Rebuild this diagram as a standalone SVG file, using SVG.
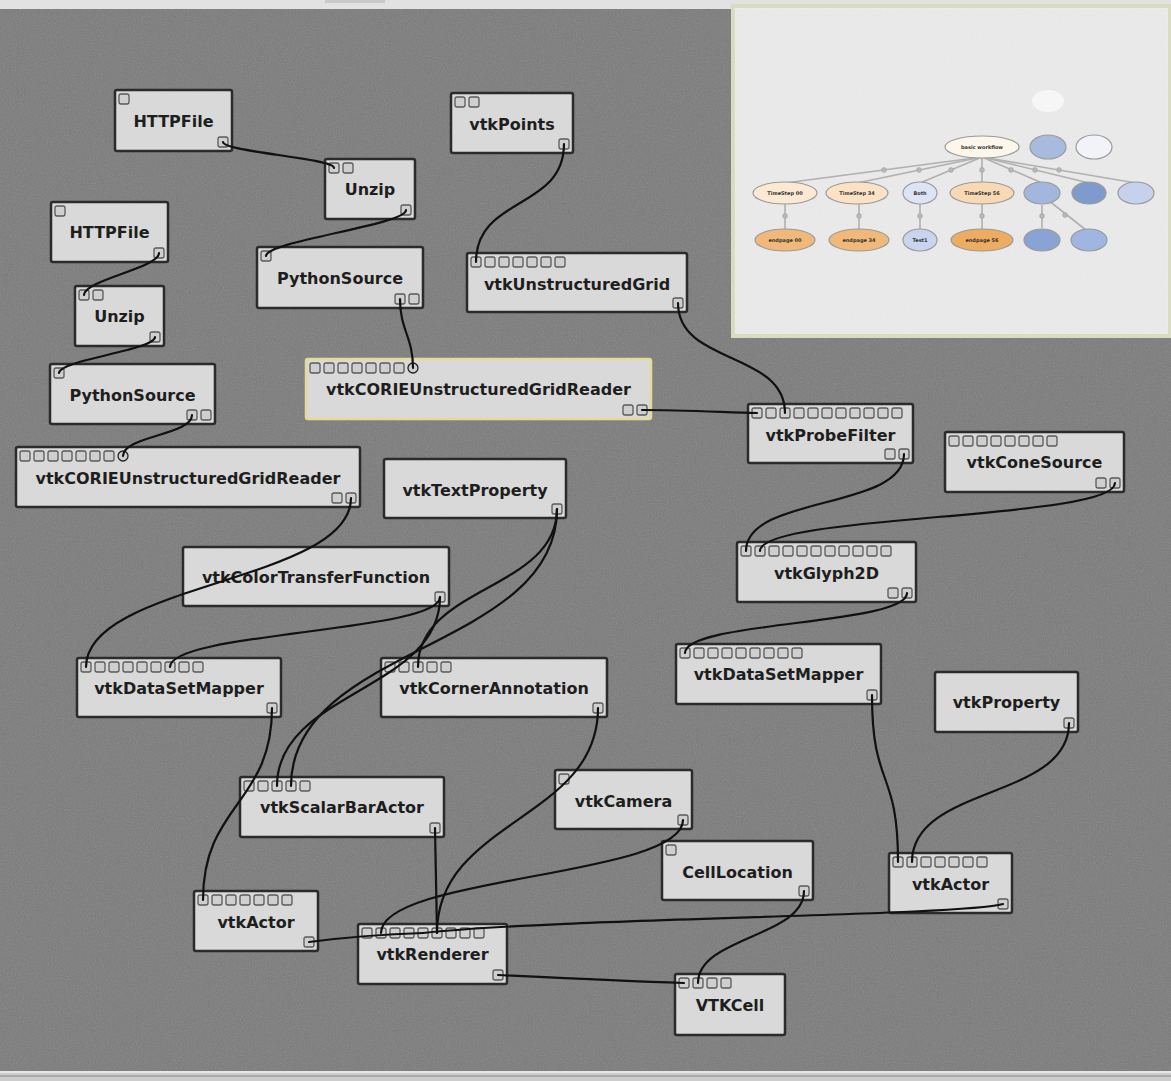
<svg xmlns="http://www.w3.org/2000/svg" width="1171" height="1081" viewBox="0 0 1171 1081">
  <defs>
    <filter id="grain" x="0" y="0" width="100%" height="100%">
      <feTurbulence type="fractalNoise" baseFrequency="0.85" numOctaves="2" seed="7"/>
      <feColorMatrix type="saturate" values="0"/>
    </filter>
    <style>
      .node rect.box { fill: #d9d9d9; stroke: #2b2b2b; stroke-width: 2.5; }
      .node.sel rect.box { stroke: #e2dc96; }
      .node text { font-family: "DejaVu Sans", "Liberation Sans", sans-serif; font-weight: bold; font-size: 16px; fill: #1e1e1e; text-anchor: middle; }
      .port { fill: #cfcfcf; stroke: #5a5a5a; stroke-width: 1.3; }
      .conn path { fill: none; stroke: #111; stroke-width: 2.2; stroke-linecap: round; }
      .vt ellipse { stroke: #9a9a9a; stroke-width: 1.2; }
      .vt text { font-family: "DejaVu Sans", "Liberation Sans", sans-serif; font-weight: bold; font-size: 5px; fill: #333; text-anchor: middle; }
      .vtedge line { stroke: #b0b0b0; stroke-width: 1.6; }
      .vtedge circle { fill: #b8b8b8; stroke: #a0a0a0; stroke-width: 0.6; }
    </style>
  </defs>

  <!-- window chrome and canvas -->
  <rect x="0" y="0" width="1171" height="1081" fill="#e2e2e2"/>
  <rect x="325" y="0" width="60" height="3" fill="#c9c9c9"/>
  <rect x="0" y="9" width="1171" height="1062" fill="#7a7a7a"/>
  <rect x="0" y="9" width="1171" height="1062" filter="url(#grain)" opacity="0.24"/>
  <rect x="0" y="1071" width="1171" height="10" fill="#cdcdcd"/>
  <rect x="0" y="1071" width="1171" height="2" fill="#e6e6e6"/>
  <rect x="0" y="1075" width="1171" height="2" fill="#a9a9a9"/>

  <!-- pipeline modules -->
  <g id="HTTPFile_1" class="node">
    <rect class="box" x="115" y="90" width="117" height="61" rx="2"/>
    <rect class="port" x="119" y="94" width="10" height="10" rx="2"/>
    <rect class="port" x="218" y="137" width="10" height="10" rx="2"/>
    <text x="173.5" y="126.5">HTTPFile</text>
  </g>
  <g id="Unzip_1" class="node">
    <rect class="box" x="325" y="159" width="90" height="60" rx="2"/>
    <rect class="port" x="329" y="163" width="10" height="10" rx="2"/>
    <rect class="port" x="343" y="163" width="10" height="10" rx="2"/>
    <rect class="port" x="401" y="205" width="10" height="10" rx="2"/>
    <text x="370" y="195">Unzip</text>
  </g>
  <g id="HTTPFile_2" class="node">
    <rect class="box" x="51" y="202" width="117" height="60" rx="2"/>
    <rect class="port" x="55" y="206" width="10" height="10" rx="2"/>
    <rect class="port" x="154" y="248" width="10" height="10" rx="2"/>
    <text x="109.5" y="237.5">HTTPFile</text>
  </g>
  <g id="Unzip_2" class="node">
    <rect class="box" x="75" y="286" width="89" height="60" rx="2"/>
    <rect class="port" x="79" y="290" width="10" height="10" rx="2"/>
    <rect class="port" x="93" y="290" width="10" height="10" rx="2"/>
    <rect class="port" x="150" y="332" width="10" height="10" rx="2"/>
    <text x="119.5" y="322">Unzip</text>
  </g>
  <g id="PythonSource_1" class="node">
    <rect class="box" x="257" y="247" width="166" height="61" rx="2"/>
    <rect class="port" x="261" y="251" width="10" height="10" rx="2"/>
    <rect class="port" x="395" y="294" width="10" height="10" rx="2"/>
    <rect class="port" x="409" y="294" width="10" height="10" rx="2"/>
    <text x="340" y="284">PythonSource</text>
  </g>
  <g id="PythonSource_2" class="node">
    <rect class="box" x="50" y="364" width="165" height="60" rx="2"/>
    <rect class="port" x="54" y="368" width="10" height="10" rx="2"/>
    <rect class="port" x="187" y="410" width="10" height="10" rx="2"/>
    <rect class="port" x="201" y="410" width="10" height="10" rx="2"/>
    <text x="132.5" y="401">PythonSource</text>
  </g>
  <g id="vtkPoints" class="node">
    <rect class="box" x="451" y="93" width="122" height="60" rx="2"/>
    <rect class="port" x="455" y="97" width="10" height="10" rx="2"/>
    <rect class="port" x="469" y="97" width="10" height="10" rx="2"/>
    <rect class="port" x="559" y="139" width="10" height="10" rx="2"/>
    <text x="512" y="130">vtkPoints</text>
  </g>
  <g id="vtkUnstructuredGrid" class="node">
    <rect class="box" x="467" y="253" width="220" height="59" rx="2"/>
    <rect class="port" x="471" y="257" width="10" height="10" rx="2"/>
    <rect class="port" x="485" y="257" width="10" height="10" rx="2"/>
    <rect class="port" x="499" y="257" width="10" height="10" rx="2"/>
    <rect class="port" x="513" y="257" width="10" height="10" rx="2"/>
    <rect class="port" x="527" y="257" width="10" height="10" rx="2"/>
    <rect class="port" x="541" y="257" width="10" height="10" rx="2"/>
    <rect class="port" x="555" y="257" width="10" height="10" rx="2"/>
    <rect class="port" x="673" y="298" width="10" height="10" rx="2"/>
    <text x="577" y="290">vtkUnstructuredGrid</text>
  </g>
  <g id="vtkCORIEUnstructuredGridReader_1" class="node sel">
    <rect class="box" x="306" y="359" width="345" height="60" rx="2"/>
    <rect class="port" x="310" y="363" width="10" height="10" rx="2"/>
    <rect class="port" x="324" y="363" width="10" height="10" rx="2"/>
    <rect class="port" x="338" y="363" width="10" height="10" rx="2"/>
    <rect class="port" x="352" y="363" width="10" height="10" rx="2"/>
    <rect class="port" x="366" y="363" width="10" height="10" rx="2"/>
    <rect class="port" x="380" y="363" width="10" height="10" rx="2"/>
    <rect class="port" x="394" y="363" width="10" height="10" rx="2"/>
    <circle class="port" cx="413" cy="368" r="5" style="stroke:#222"/>
    <rect class="port" x="623" y="405" width="10" height="10" rx="2"/>
    <rect class="port" x="637" y="405" width="10" height="10" rx="2"/>
    <text x="478.5" y="395">vtkCORIEUnstructuredGridReader</text>
  </g>
  <g id="vtkProbeFilter" class="node">
    <rect class="box" x="748" y="404" width="165" height="59" rx="2"/>
    <rect class="port" x="752" y="408" width="10" height="10" rx="2"/>
    <rect class="port" x="766" y="408" width="10" height="10" rx="2"/>
    <rect class="port" x="780" y="408" width="10" height="10" rx="2"/>
    <rect class="port" x="794" y="408" width="10" height="10" rx="2"/>
    <rect class="port" x="808" y="408" width="10" height="10" rx="2"/>
    <rect class="port" x="822" y="408" width="10" height="10" rx="2"/>
    <rect class="port" x="836" y="408" width="10" height="10" rx="2"/>
    <rect class="port" x="850" y="408" width="10" height="10" rx="2"/>
    <rect class="port" x="864" y="408" width="10" height="10" rx="2"/>
    <rect class="port" x="878" y="408" width="10" height="10" rx="2"/>
    <rect class="port" x="892" y="408" width="10" height="10" rx="2"/>
    <rect class="port" x="885" y="449" width="10" height="10" rx="2"/>
    <rect class="port" x="899" y="449" width="10" height="10" rx="2"/>
    <text x="830.5" y="441">vtkProbeFilter</text>
  </g>
  <g id="vtkCORIEUnstructuredGridReader_2" class="node">
    <rect class="box" x="16" y="447" width="344" height="60" rx="2"/>
    <rect class="port" x="20" y="451" width="10" height="10" rx="2"/>
    <rect class="port" x="34" y="451" width="10" height="10" rx="2"/>
    <rect class="port" x="48" y="451" width="10" height="10" rx="2"/>
    <rect class="port" x="62" y="451" width="10" height="10" rx="2"/>
    <rect class="port" x="76" y="451" width="10" height="10" rx="2"/>
    <rect class="port" x="90" y="451" width="10" height="10" rx="2"/>
    <rect class="port" x="104" y="451" width="10" height="10" rx="2"/>
    <circle class="port" cx="123" cy="456" r="5" style="stroke:#222"/>
    <rect class="port" x="332" y="493" width="10" height="10" rx="2"/>
    <rect class="port" x="346" y="493" width="10" height="10" rx="2"/>
    <text x="188" y="484">vtkCORIEUnstructuredGridReader</text>
  </g>
  <g id="vtkTextProperty" class="node">
    <rect class="box" x="384" y="459" width="182" height="59" rx="2"/>
    <rect class="port" x="552" y="504" width="10" height="10" rx="2"/>
    <text x="475" y="496">vtkTextProperty</text>
  </g>
  <g id="vtkConeSource" class="node">
    <rect class="box" x="945" y="432" width="179" height="60" rx="2"/>
    <rect class="port" x="949" y="436" width="10" height="10" rx="2"/>
    <rect class="port" x="963" y="436" width="10" height="10" rx="2"/>
    <rect class="port" x="977" y="436" width="10" height="10" rx="2"/>
    <rect class="port" x="991" y="436" width="10" height="10" rx="2"/>
    <rect class="port" x="1005" y="436" width="10" height="10" rx="2"/>
    <rect class="port" x="1019" y="436" width="10" height="10" rx="2"/>
    <rect class="port" x="1033" y="436" width="10" height="10" rx="2"/>
    <rect class="port" x="1047" y="436" width="10" height="10" rx="2"/>
    <rect class="port" x="1096" y="478" width="10" height="10" rx="2"/>
    <rect class="port" x="1110" y="478" width="10" height="10" rx="2"/>
    <text x="1034.5" y="468">vtkConeSource</text>
  </g>
  <g id="vtkColorTransferFunction" class="node">
    <rect class="box" x="183" y="547" width="266" height="59" rx="2"/>
    <rect class="port" x="435" y="592" width="10" height="10" rx="2"/>
    <text x="316" y="583">vtkColorTransferFunction</text>
  </g>
  <g id="vtkGlyph2D" class="node">
    <rect class="box" x="737" y="542" width="179" height="60" rx="2"/>
    <rect class="port" x="741" y="546" width="10" height="10" rx="2"/>
    <rect class="port" x="755" y="546" width="10" height="10" rx="2"/>
    <rect class="port" x="769" y="546" width="10" height="10" rx="2"/>
    <rect class="port" x="783" y="546" width="10" height="10" rx="2"/>
    <rect class="port" x="797" y="546" width="10" height="10" rx="2"/>
    <rect class="port" x="811" y="546" width="10" height="10" rx="2"/>
    <rect class="port" x="825" y="546" width="10" height="10" rx="2"/>
    <rect class="port" x="839" y="546" width="10" height="10" rx="2"/>
    <rect class="port" x="853" y="546" width="10" height="10" rx="2"/>
    <rect class="port" x="867" y="546" width="10" height="10" rx="2"/>
    <rect class="port" x="881" y="546" width="10" height="10" rx="2"/>
    <rect class="port" x="888" y="588" width="10" height="10" rx="2"/>
    <rect class="port" x="902" y="588" width="10" height="10" rx="2"/>
    <text x="826.5" y="579">vtkGlyph2D</text>
  </g>
  <g id="vtkDataSetMapper_1" class="node">
    <rect class="box" x="77" y="658" width="204" height="59" rx="2"/>
    <rect class="port" x="81" y="662" width="10" height="10" rx="2"/>
    <rect class="port" x="95" y="662" width="10" height="10" rx="2"/>
    <rect class="port" x="109" y="662" width="10" height="10" rx="2"/>
    <rect class="port" x="123" y="662" width="10" height="10" rx="2"/>
    <rect class="port" x="137" y="662" width="10" height="10" rx="2"/>
    <rect class="port" x="151" y="662" width="10" height="10" rx="2"/>
    <rect class="port" x="165" y="662" width="10" height="10" rx="2"/>
    <rect class="port" x="179" y="662" width="10" height="10" rx="2"/>
    <rect class="port" x="193" y="662" width="10" height="10" rx="2"/>
    <rect class="port" x="267" y="703" width="10" height="10" rx="2"/>
    <text x="179" y="694">vtkDataSetMapper</text>
  </g>
  <g id="vtkCornerAnnotation" class="node">
    <rect class="box" x="381" y="658" width="226" height="59" rx="2"/>
    <rect class="port" x="385" y="662" width="10" height="10" rx="2"/>
    <rect class="port" x="399" y="662" width="10" height="10" rx="2"/>
    <rect class="port" x="413" y="662" width="10" height="10" rx="2"/>
    <rect class="port" x="427" y="662" width="10" height="10" rx="2"/>
    <rect class="port" x="441" y="662" width="10" height="10" rx="2"/>
    <rect class="port" x="593" y="703" width="10" height="10" rx="2"/>
    <text x="494" y="694">vtkCornerAnnotation</text>
  </g>
  <g id="vtkDataSetMapper_2" class="node">
    <rect class="box" x="676" y="644" width="205" height="60" rx="2"/>
    <rect class="port" x="680" y="648" width="10" height="10" rx="2"/>
    <rect class="port" x="694" y="648" width="10" height="10" rx="2"/>
    <rect class="port" x="708" y="648" width="10" height="10" rx="2"/>
    <rect class="port" x="722" y="648" width="10" height="10" rx="2"/>
    <rect class="port" x="736" y="648" width="10" height="10" rx="2"/>
    <rect class="port" x="750" y="648" width="10" height="10" rx="2"/>
    <rect class="port" x="764" y="648" width="10" height="10" rx="2"/>
    <rect class="port" x="778" y="648" width="10" height="10" rx="2"/>
    <rect class="port" x="792" y="648" width="10" height="10" rx="2"/>
    <rect class="port" x="867" y="690" width="10" height="10" rx="2"/>
    <text x="778.5" y="680">vtkDataSetMapper</text>
  </g>
  <g id="vtkProperty" class="node">
    <rect class="box" x="935" y="672" width="143" height="60" rx="2"/>
    <rect class="port" x="1064" y="718" width="10" height="10" rx="2"/>
    <text x="1006.5" y="708">vtkProperty</text>
  </g>
  <g id="vtkScalarBarActor" class="node">
    <rect class="box" x="240" y="777" width="204" height="60" rx="2"/>
    <rect class="port" x="244" y="781" width="10" height="10" rx="2"/>
    <rect class="port" x="258" y="781" width="10" height="10" rx="2"/>
    <rect class="port" x="272" y="781" width="10" height="10" rx="2"/>
    <rect class="port" x="286" y="781" width="10" height="10" rx="2"/>
    <rect class="port" x="300" y="781" width="10" height="10" rx="2"/>
    <rect class="port" x="430" y="823" width="10" height="10" rx="2"/>
    <text x="342" y="813">vtkScalarBarActor</text>
  </g>
  <g id="vtkCamera" class="node">
    <rect class="box" x="555" y="770" width="137" height="59" rx="2"/>
    <rect class="port" x="559" y="774" width="10" height="10" rx="2"/>
    <rect class="port" x="678" y="815" width="10" height="10" rx="2"/>
    <text x="623.5" y="807">vtkCamera</text>
  </g>
  <g id="CellLocation" class="node">
    <rect class="box" x="662" y="841" width="151" height="59" rx="2"/>
    <rect class="port" x="666" y="845" width="10" height="10" rx="2"/>
    <rect class="port" x="799" y="886" width="10" height="10" rx="2"/>
    <text x="737.5" y="878">CellLocation</text>
  </g>
  <g id="vtkActor_1" class="node">
    <rect class="box" x="194" y="891" width="124" height="60" rx="2"/>
    <rect class="port" x="198" y="895" width="10" height="10" rx="2"/>
    <rect class="port" x="212" y="895" width="10" height="10" rx="2"/>
    <rect class="port" x="226" y="895" width="10" height="10" rx="2"/>
    <rect class="port" x="240" y="895" width="10" height="10" rx="2"/>
    <rect class="port" x="254" y="895" width="10" height="10" rx="2"/>
    <rect class="port" x="268" y="895" width="10" height="10" rx="2"/>
    <rect class="port" x="282" y="895" width="10" height="10" rx="2"/>
    <rect class="port" x="304" y="937" width="10" height="10" rx="2"/>
    <text x="256" y="928">vtkActor</text>
  </g>
  <g id="vtkActor_2" class="node">
    <rect class="box" x="889" y="853" width="123" height="60" rx="2"/>
    <rect class="port" x="893" y="857" width="10" height="10" rx="2"/>
    <rect class="port" x="907" y="857" width="10" height="10" rx="2"/>
    <rect class="port" x="921" y="857" width="10" height="10" rx="2"/>
    <rect class="port" x="935" y="857" width="10" height="10" rx="2"/>
    <rect class="port" x="949" y="857" width="10" height="10" rx="2"/>
    <rect class="port" x="963" y="857" width="10" height="10" rx="2"/>
    <rect class="port" x="977" y="857" width="10" height="10" rx="2"/>
    <rect class="port" x="998" y="899" width="10" height="10" rx="2"/>
    <text x="950.5" y="890">vtkActor</text>
  </g>
  <g id="vtkRenderer" class="node">
    <rect class="box" x="358" y="924" width="149" height="60" rx="2"/>
    <rect class="port" x="362" y="928" width="10" height="10" rx="2"/>
    <rect class="port" x="376" y="928" width="10" height="10" rx="2"/>
    <rect class="port" x="390" y="928" width="10" height="10" rx="2"/>
    <rect class="port" x="404" y="928" width="10" height="10" rx="2"/>
    <rect class="port" x="418" y="928" width="10" height="10" rx="2"/>
    <rect class="port" x="432" y="928" width="10" height="10" rx="2"/>
    <rect class="port" x="446" y="928" width="10" height="10" rx="2"/>
    <rect class="port" x="460" y="928" width="10" height="10" rx="2"/>
    <rect class="port" x="474" y="928" width="10" height="10" rx="2"/>
    <rect class="port" x="493" y="970" width="10" height="10" rx="2"/>
    <text x="432.5" y="960">vtkRenderer</text>
  </g>
  <g id="VTKCell" class="node">
    <rect class="box" x="675" y="974" width="110" height="61" rx="2"/>
    <rect class="port" x="679" y="978" width="10" height="10" rx="2"/>
    <rect class="port" x="693" y="978" width="10" height="10" rx="2"/>
    <rect class="port" x="707" y="978" width="10" height="10" rx="2"/>
    <rect class="port" x="721" y="978" width="10" height="10" rx="2"/>
    <text x="730" y="1011">VTKCell</text>
  </g>

  <!-- connections: output port to input port -->
  <g id="connections" class="conn">
    <path d="M223,142 C223,152 334,158 334,168"/>
    <path d="M406,210 C406,225 266,241 266,256"/>
    <path d="M159,253 C159,268 84,280 84,295"/>
    <path d="M155,337 C155,350 59,360 59,373"/>
    <path d="M400,299 C400,330 413,337 413,368"/>
    <path d="M192,415 C192,435 123,436 123,456"/>
    <path d="M564,144 C564,210 476,196 476,262"/>
    <path d="M678,303 C678,365 785,351 785,413"/>
    <path d="M642,410 C680,410 720,412 757,413"/>
    <path d="M904,454 C904,510 746,495 746,551"/>
    <path d="M1115,483 C1115,520 760,514 760,551"/>
    <path d="M907,593 C907,625 685,621 685,653"/>
    <path d="M872,695 C872,790 898,767 898,862"/>
    <path d="M1069,723 C1069,800 912,785 912,862"/>
    <path d="M272,708 C272,804 203,804 203,900"/>
    <path d="M351,498 C351,582 86,583 86,667"/>
    <path d="M440,597 C440,632 170,632 170,667"/>
    <path d="M440,597 C440,690 277,692 277,786"/>
    <path d="M557,509 C557,650 291,645 291,786"/>
    <path d="M557,509 C557,590 418,586 418,667"/>
    <path d="M435,828 L437,933"/>
    <path d="M598,708 C598,820 437,820 437,933"/>
    <path d="M683,820 C683,877 381,876 381,933"/>
    <path d="M804,891 C804,937 698,937 698,983"/>
    <path d="M498,975 C560,978 620,981 684,983"/>
    <path d="M309,942 C340,938 390,934 423,933"/>
    <path d="M1003,904 C960,916 560,918 423,933"/>
  </g>

  <!-- version tree panel -->
  <g id="version-tree">
    <rect x="733" y="6" width="437" height="330" fill="#ebebeb" stroke="#dadcc2" stroke-width="4"/>
    <rect x="736" y="9" width="431" height="324" filter="url(#grain)" opacity="0.08"/>
    <ellipse cx="1048" cy="101" rx="16" ry="11" fill="#f6f6f6"/>
    <g class="vtedge">
      <line x1="982" y1="157" x2="785" y2="183"/>
      <line x1="982" y1="157" x2="857" y2="183"/>
      <line x1="982" y1="157" x2="920" y2="183"/>
      <line x1="982" y1="158" x2="982" y2="182"/>
      <line x1="982" y1="157" x2="1042" y2="183"/>
      <line x1="982" y1="157" x2="1089" y2="183"/>
      <line x1="982" y1="157" x2="1136" y2="183"/>
      <line x1="785" y1="204" x2="785" y2="229"/>
      <line x1="859" y1="204" x2="859" y2="229"/>
      <line x1="920" y1="204" x2="920" y2="229"/>
      <line x1="982" y1="204" x2="982" y2="229"/>
      <line x1="1042" y1="205" x2="1042" y2="228"/>
      <line x1="1048" y1="200" x2="1086" y2="230"/>
      <circle cx="884" cy="170" r="2.4"/>
      <circle cx="919" cy="170" r="2.4"/>
      <circle cx="951" cy="170" r="2.4"/>
      <circle cx="982" cy="170" r="2.4"/>
      <circle cx="1011" cy="170" r="2.4"/>
      <circle cx="1035" cy="170" r="2.4"/>
      <circle cx="1059" cy="170" r="2.4"/>
      <circle cx="785" cy="216" r="2.4"/>
      <circle cx="859" cy="216" r="2.4"/>
      <circle cx="920" cy="216" r="2.4"/>
      <circle cx="982" cy="216" r="2.4"/>
      <circle cx="1042" cy="216" r="2.4"/>
      <circle cx="1065" cy="215" r="2.4"/>
    </g>
    <g class="vt">
      <ellipse cx="982" cy="147" rx="37" ry="11" fill="#fdf6ea"/>
      <text x="982" y="149">basic workflow</text>
      <ellipse cx="1048" cy="147" rx="18" ry="12" fill="#a9badf"/>
      <ellipse cx="1094" cy="147" rx="18" ry="12" fill="#f1f3f9"/>
      <ellipse cx="785" cy="193" rx="32" ry="11" fill="#fde9d3"/>
      <text x="785" y="195">TimeStep 00</text>
      <ellipse cx="857" cy="193" rx="31" ry="11" fill="#fbe2c5"/>
      <text x="857" y="195">TimeStep 34</text>
      <ellipse cx="920" cy="193" rx="17" ry="11" fill="#dde4f5"/>
      <text x="920" y="195">Both</text>
      <ellipse cx="982" cy="193" rx="32" ry="11" fill="#f8d9b3"/>
      <text x="982" y="195">TimeStep 56</text>
      <ellipse cx="1042" cy="193" rx="18" ry="11" fill="#a2b6de"/>
      <ellipse cx="1089" cy="193" rx="17" ry="11" fill="#7f9bcd"/>
      <ellipse cx="1136" cy="193" rx="18" ry="11" fill="#c5d1ed"/>
      <ellipse cx="785" cy="240" rx="30" ry="11" fill="#f0b97a"/>
      <text x="785" y="242">endpage 00</text>
      <ellipse cx="859" cy="240" rx="30" ry="11" fill="#f0b97a"/>
      <text x="859" y="242">endpage 34</text>
      <ellipse cx="920" cy="240" rx="17" ry="11" fill="#c9d5ef"/>
      <text x="920" y="242">Test1</text>
      <ellipse cx="982" cy="240" rx="31" ry="11" fill="#eeab62"/>
      <text x="982" y="242">endpage 56</text>
      <ellipse cx="1042" cy="240" rx="18" ry="11" fill="#8aa3d5"/>
      <ellipse cx="1089" cy="240" rx="18" ry="11" fill="#a0b5df"/>
    </g>
  </g>
</svg>
